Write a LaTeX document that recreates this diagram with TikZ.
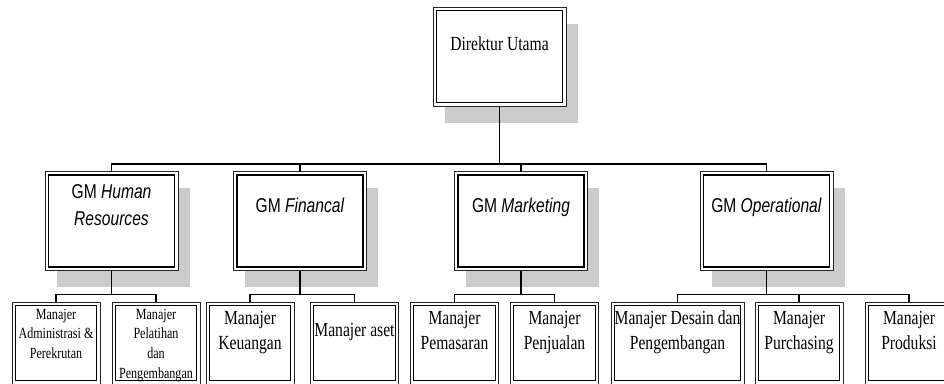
\documentclass[tikz,border=0pt]{standalone}
\usepackage{fontspec}
\setmainfont{Liberation Serif}[FakeStretch=0.78]
\newfontfamily\gmsans{Liberation Sans}[FakeStretch=0.78]
\usetikzlibrary{shadows}

% centred block of lines whose baseline is the first line's baseline
\newcommand\txtlines[1]{\begin{tabular}[t]{@{}c@{}}#1\end{tabular}}

\tikzset{
  % boxes of the two upper levels: thin outer frame, heavier inner frame, grey shadow
  mainbox/.style={rectangle, minimum width=133pt, minimum height=99pt,
    inner sep=0pt, outer sep=0pt, draw=black!85, line width=0.9pt, fill=white,
    drop shadow={shadow xshift=11.5pt, shadow yshift=-16.5pt, fill=black!20, opacity=1},
    path picture={\draw[black, line width=1.6pt]
      ([shift={(3.4pt,-3.4pt)}]path picture bounding box.north west) rectangle
      ([shift={(-3.4pt,3.4pt)}]path picture bounding box.south east);}},
  % manager boxes: plain double frame
  subbox/.style={rectangle, minimum width=88pt, minimum height=82pt,
    inner sep=0pt, outer sep=0pt, draw=black!85, line width=0.8pt, fill=white,
    path picture={\draw[black, line width=0.9pt]
      ([shift={(3.3pt,-3.3pt)}]path picture bounding box.north west) rectangle
      ([shift={(-3.3pt,3.3pt)}]path picture bounding box.south east);}},
  gmtext/.style={inner sep=0pt, anchor=base, font=\gmsans\fontsize{20pt}{27pt}\selectfont},
  dirtext/.style={inner sep=0pt, anchor=base, font=\fontsize{20pt}{25pt}\selectfont},
  mgrtext/.style={inner sep=0pt, anchor=base, font=\fontsize{20pt}{25.5pt}\selectfont},
  mgrsmall/.style={inner sep=0pt, anchor=base, font=\fontsize{15.5pt}{19.7pt}\selectfont},
  link/.style={draw=black, line width=1.2pt}
}

\begin{document}
\begin{tikzpicture}[x=1pt, y=-1pt]
\path[use as bounding box, clip] (0,0) rectangle (944,383);

% ---- top level
\node[mainbox] (dir) at (499.5,56.5) {};
\node[dirtext] (dirT) at ([yshift=-43pt]dir.north) {Direktur Utama};

% ---- general managers
\node[mainbox] (hr)  at (111.5,221) {};
\node[mainbox] (fin) at (300,221) {};
\node[mainbox] (mkt) at (521,221) {};
\node[mainbox] (ops) at (766.5,221) {};

\node[gmtext] (hrT)  at ([yshift=-27pt]hr.north)  {\txtlines{GM \textit{Human}\\\textit{Resources}}};
\node[gmtext] (finT) at ([yshift=-41pt]fin.north) {GM \textit{Financal}};
\node[gmtext] (mktT) at ([yshift=-41pt]mkt.north) {GM \textit{Marketing}};
\node[gmtext] (opsT) at ([yshift=-41pt]ops.north) {GM \textit{Operational}};

% ---- managers
\node[subbox] (adm)  at (56,343)    {};
\node[subbox] (lat)  at (156,343)   {};
\node[subbox] (keu)  at (250,343)   {};
\node[subbox] (aset) at (354.5,343) {};
\node[subbox] (pem)  at (454.5,343) {};
\node[subbox] (jual) at (554.5,343) {};
\node[subbox, minimum width=133pt] (des) at (677.5,343) {};
\node[subbox] (pur)  at (799,343)   {};
\node[subbox] (prod) at (909,343)   {};

\node[mgrsmall] (admT)  at ([yshift=-17pt]adm.north)  {\txtlines{Manajer\\Administrasi \&\\Perekrutan}};
\node[mgrsmall] (latT)  at ([yshift=-17pt]lat.north)  {\txtlines{Manajer\\Pelatihan\\dan\\Pengembangan}};
\node[mgrtext]  (keuT)  at ([yshift=-22pt]keu.north)  {\txtlines{Manajer\\Keuangan}};
\node[mgrtext]  (asetT) at ([yshift=-34pt]aset.north) {Manajer aset};
\node[mgrtext]  (pemT)  at ([yshift=-22pt]pem.north)  {\txtlines{Manajer\\Pemasaran}};
\node[mgrtext]  (jualT) at ([yshift=-22pt]jual.north) {\txtlines{Manajer\\Penjualan}};
\node[mgrtext]  (desT)  at ([yshift=-22pt]des.north)  {\txtlines{Manajer Desain dan\\Pengembangan}};
\node[mgrtext]  (purT)  at ([yshift=-22pt]pur.north)  {\txtlines{Manajer\\Purchasing}};
\node[mgrtext]  (prodT) at ([yshift=-22pt]prod.north) {\txtlines{Manajer\\Produksi}};

% ---- junction points of the connector buses
\coordinate (bus)    at ([yshift=-58pt]dir.south);
\coordinate (hrbus)  at ([yshift=-24pt]hr.south);
\coordinate (finbus) at ([yshift=-24pt]fin.south);
\coordinate (mktbus) at ([yshift=-24pt]mkt.south);
\coordinate (opsbus) at ([yshift=-24pt]ops.south);

% ---- connectors
\draw[link] (dir.south) -- (bus);
\draw[link] (hr.north) |- (bus) -| (ops.north);
\draw[link] (fin.north) -- (fin.north |- bus);
\draw[link] (mkt.north) -- (mkt.north |- bus);

\draw[link] (hr.south) -- (hrbus);
\draw[link] (adm.north) |- (hrbus) -| (lat.north);

\draw[link] (fin.south) -- (finbus);
\draw[link] (keu.north) |- (finbus) -| (aset.north);

\draw[link] (mkt.south) -- (mktbus);
\draw[link] (pem.north) |- (mktbus) -| (jual.north);

\draw[link] (ops.south) -- (opsbus);
\draw[link] (des.north) |- (opsbus) -| (prod.north);
\draw[link] (pur.north) -- (pur.north |- opsbus);
\end{tikzpicture}
\end{document}
